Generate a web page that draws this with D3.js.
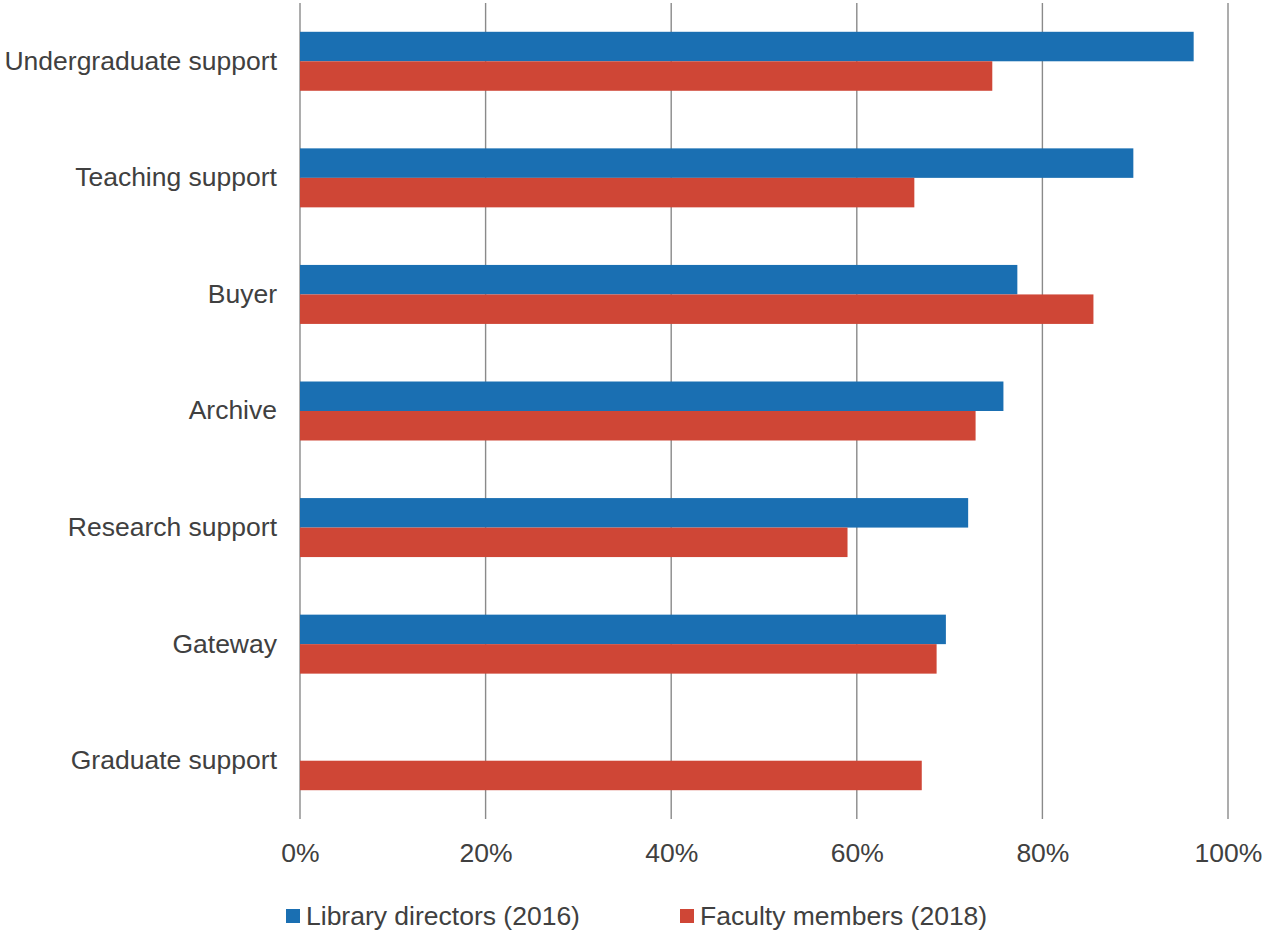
<!DOCTYPE html>
<html>
<head>
<meta charset="utf-8">
<script src="https://cdn.jsdelivr.net/npm/d3@7"></script>
<style>
  html, body { margin: 0; padding: 0; background: #ffffff; }
  svg { display: block; }
  text { font-family: "Liberation Sans", Arial, sans-serif; fill: #404040; }
</style>
</head>
<body>
<svg id="chart" width="1269" height="930"></svg>
<script>
// Roles, top to bottom
const categories = [
  "Undergraduate support",
  "Teaching support",
  "Buyer",
  "Archive",
  "Research support",
  "Gateway",
  "Graduate support"
];
// Share of respondents rating each role as very important (%)
const libraryDirectors2016 = [96.3, 89.8, 77.3, 75.8, 72.0, 69.6, null];
const facultyMembers2018  = [74.6, 66.2, 85.5, 72.8, 59.0, 68.6, 67.0];
const seriesNames = ["Library directors (2016)", "Faculty members (2018)"];
const seriesColors = ["#1a6fb2", "#cf4636"];
const xTicks = [0, 20, 40, 60, 80, 100];

const svg = d3.select("#chart");
const margin = { top: 3, right: 41, bottom: 111, left: 300 };
const width = 1269 - margin.left - margin.right;
const height = 930 - margin.top - margin.bottom;

const g = svg.append("g").attr("transform", `translate(${margin.left},${margin.top})`);

const x = d3.scaleLinear().domain([0, 100]).range([0, width]);
const y = d3.scaleBand().domain(categories).range([0, height])
  .paddingInner(0.494).paddingOuter(0.247);
const ySub = d3.scaleBand().domain([0, 1]).range([0, y.bandwidth()]);

// Vertical gridlines, running down past the last bar as tick marks
g.append("g")
  .selectAll("line")
  .data(xTicks)
  .join("line")
  .attr("x1", d => x(d)).attr("x2", d => x(d))
  .attr("y1", 0).attr("y2", height)
  .attr("stroke", "#8a8a8a")
  .attr("stroke-width", 1.4);

// Bars
const series = [libraryDirectors2016, facultyMembers2018];
series.forEach((vals, si) => {
  g.append("g")
    .selectAll("rect")
    .data(categories.map((c, i) => ({ c, v: vals[i] })).filter(d => d.v != null))
    .join("rect")
    .attr("x", x(0))
    .attr("y", d => y(d.c) + ySub(si))
    .attr("width", d => x(d.v) - x(0))
    .attr("height", ySub.bandwidth())
    .attr("fill", seriesColors[si]);
});

// Category labels
const yAxis = g.append("g").call(d3.axisLeft(y).tickSize(0).tickPadding(23));
yAxis.select(".domain").remove();
yAxis.selectAll("text")
  .attr("font-size", "26.5px")
  .attr("fill", "#404040")
  .style("font-family", '"Liberation Sans", Arial, sans-serif');

// Percentage axis labels
const xAxis = g.append("g")
  .attr("transform", `translate(0,${height})`)
  .call(d3.axisBottom(x).tickValues(xTicks).tickFormat(d => d + "%").tickSize(0).tickPadding(24));
xAxis.select(".domain").remove();
xAxis.selectAll("text")
  .attr("font-size", "26.5px")
  .attr("fill", "#404040")
  .style("font-family", '"Liberation Sans", Arial, sans-serif');

// Legend
const legendX = [286, 680];
const legend = svg.append("g");
seriesNames.forEach((name, i) => {
  const item = legend.append("g").attr("transform", `translate(${legendX[i]},909)`);
  item.append("rect").attr("width", 14).attr("height", 14).attr("fill", seriesColors[i]);
  item.append("text")
    .attr("x", 20).attr("y", 7).attr("dy", "0.35em")
    .attr("font-size", "26.5px")
    .text(name);
});
</script>
</body>
</html>
